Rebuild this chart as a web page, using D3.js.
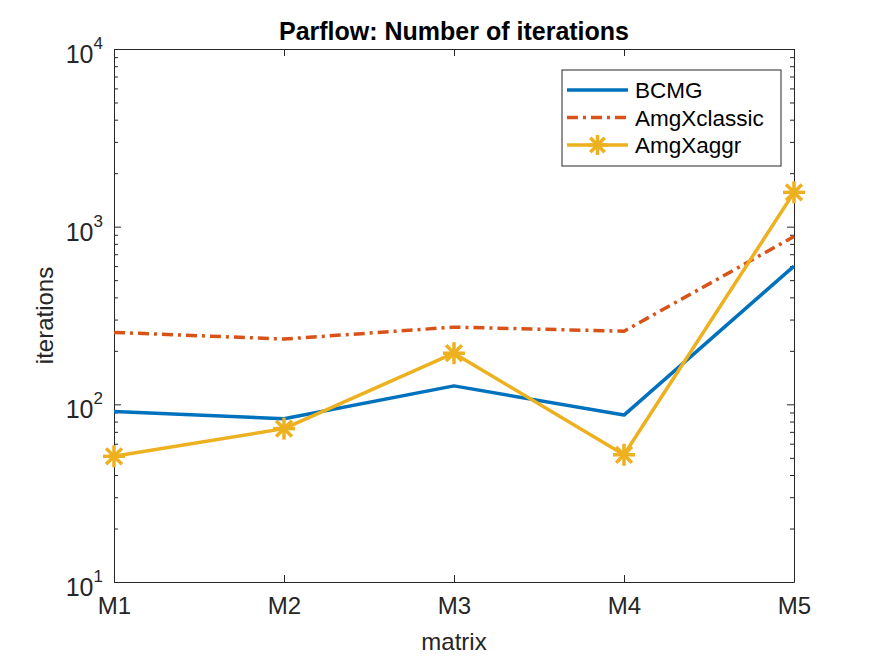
<!DOCTYPE html>
<meta charset="utf-8">
<html>
<script src="https://d3js.org/d3.v7.min.js"></script>
<style>
  body { margin: 0; background: #fff; }
  text { font-family: "Liberation Sans", Arial, sans-serif; fill: #262626; }
</style>
<body>
<div id="chart"></div>
<script>

// data
const matrices = ["M1", "M2", "M3", "M4", "M5"];
const bcmg = [91, 83, 127, 87, 600];
const amgxClassic = [254, 233, 272, 258, 880];
const amgxAggr = [51, 73, 194, 52, 1560];
const yTickExp = [1, 2, 3, 4];
const seriesNames = ["BCMG", "AmgXclassic", "AmgXaggr"];

const W = 875, H = 656;
const margin = {top: 49, right: 81, bottom: 74, left: 114};
const innerW = W - margin.left - margin.right,
      innerH = H - margin.top - margin.bottom;

const svg = d3.select("#chart")
  .append("svg")
    .attr("width", W)
    .attr("height", H);

const g = svg.append("g")
    .attr("transform", `translate(${margin.left}, ${margin.top})`);

const x = d3.scalePoint()
  .domain(matrices)
  .range([0, innerW]);

const y = d3.scaleLog()
  .domain([10, 10000])
  .range([innerH, 0]);

// minor ticks 2..9 per decade
const minorTicks = [];
yTickExp.slice(0, -1).forEach(e => {
  for (let k = 2; k <= 9; k++) minorTicks.push(k * Math.pow(10, e));
});
const majorTicks = yTickExp.map(e => Math.pow(10, e));

const axisColor = "#262626";
const tickLen = 7;

// x axis bottom + top (ticks inward)
g.append("g")
  .attr("transform", `translate(0, ${innerH})`)
  .call(d3.axisBottom(x).tickSizeInner(-tickLen).tickSizeOuter(0).tickPadding(15))
  .call(a => a.selectAll("text").attr("font-size", 24).attr("fill", axisColor))
  .call(a => a.selectAll("line, path").attr("stroke", axisColor));

g.append("g")
  .call(d3.axisTop(x).tickSizeInner(-tickLen).tickSizeOuter(0).tickFormat(""))
  .call(a => a.selectAll("line, path").attr("stroke", axisColor));

// y axis left + right
g.append("g")
  .call(d3.axisLeft(y).tickValues(majorTicks).tickSizeInner(-tickLen).tickSizeOuter(0).tickFormat(""))
  .call(a => a.selectAll("line, path").attr("stroke", axisColor));
g.append("g")
  .call(d3.axisLeft(y).tickValues(minorTicks).tickSizeInner(-4).tickSizeOuter(0).tickFormat(""))
  .call(a => a.select(".domain").remove())
  .call(a => a.selectAll("line").attr("stroke", axisColor));

g.append("g")
  .attr("transform", `translate(${innerW}, 0)`)
  .call(d3.axisRight(y).tickValues(majorTicks).tickSizeInner(-tickLen).tickSizeOuter(0).tickFormat(""))
  .call(a => a.selectAll("line, path").attr("stroke", axisColor));
g.append("g")
  .attr("transform", `translate(${innerW}, 0)`)
  .call(d3.axisRight(y).tickValues(minorTicks).tickSizeInner(-4).tickSizeOuter(0).tickFormat(""))
  .call(a => a.select(".domain").remove())
  .call(a => a.selectAll("line").attr("stroke", axisColor));

// y tick labels 10^n
const yl = g.selectAll(".ylab")
  .data(yTickExp)
  .join("text")
    .attr("class", "ylab")
    .attr("text-anchor", "end")
    .attr("x", -11)
    .attr("y", d => y(Math.pow(10, d)) + 14)
    .attr("font-size", 25);
yl.append("tspan").text("10");
yl.append("tspan").attr("dy", -14).attr("font-size", 17).text(d => d);

// lines
const line = d3.line()
  .x((d, i) => x(matrices[i]))
  .y(d => y(d));

const colors = ["#0072BD", "#D95319", "#EDB120"];
const series = [bcmg, amgxClassic, amgxAggr];
const dashes = [null, "11,5,3,5", null];

g.selectAll(".series")
  .data(series)
  .join("path")
    .attr("class", "series")
    .attr("fill", "none")
    .attr("stroke", (d, i) => colors[i])
    .attr("stroke-width", 3.5)
    .attr("stroke-dasharray", (d, i) => dashes[i])
    .attr("stroke-linejoin", "round")
    .attr("d", line);

// asterisk marker
function asterisk(sel, r) {
  [[0, -r, 0, r], [-r, 0, r, 0], [-r * 0.72, -r * 0.72, r * 0.72, r * 0.72], [-r * 0.72, r * 0.72, r * 0.72, -r * 0.72]]
    .forEach(s => sel.append("line")
      .attr("x1", s[0]).attr("y1", s[1]).attr("x2", s[2]).attr("y2", s[3])
      .attr("stroke", colors[2]).attr("stroke-width", 3.5));
}

g.selectAll(".mk")
  .data(amgxAggr)
  .join("g")
    .attr("class", "mk")
    .attr("transform", (d, i) => `translate(${x(matrices[i])}, ${y(d)})`)
    .each(function() { asterisk(d3.select(this), 11); });

// title and axis labels
svg.append("text")
  .attr("x", margin.left + innerW / 2)
  .attr("y", 40)
  .attr("text-anchor", "middle")
  .attr("font-size", 25)
  .attr("font-weight", "bold")
  .style("fill", "#000")
  .text("Parflow: Number of iterations");

svg.append("text")
  .attr("x", margin.left + innerW / 2)
  .attr("y", 650)
  .attr("text-anchor", "middle")
  .attr("font-size", 24)
  .text("matrix");

svg.append("text")
  .attr("transform", `translate(53, ${margin.top + innerH / 2}) rotate(-90)`)
  .attr("text-anchor", "middle")
  .attr("font-size", 24)
  .text("iterations");

// legend
const lg = svg.append("g").attr("transform", "translate(562, 70)");
lg.append("rect")
  .attr("width", 219).attr("height", 96)
  .attr("fill", "#fff").attr("stroke", axisColor).attr("stroke-width", 1);

const rows = lg.selectAll(".lrow")
  .data(seriesNames)
  .join("g")
    .attr("class", "lrow")
    .attr("transform", (d, i) => `translate(0, ${20 + i * 27.5})`);

rows.append("line")
  .attr("x1", 5).attr("x2", 66)
  .attr("stroke", (d, i) => colors[i])
  .attr("stroke-width", 3.5)
  .attr("stroke-dasharray", (d, i) => dashes[i]);

rows.filter((d, i) => i === 2)
  .append("g").attr("transform", "translate(35.5, 0)")
  .each(function() { asterisk(d3.select(this), 10); });

rows.append("text")
  .attr("x", 73)
  .attr("y", 8)
  .attr("font-size", 22.5)
  .style("fill", "#000")
  .text(d => d);

</script>
</body>
</html>
